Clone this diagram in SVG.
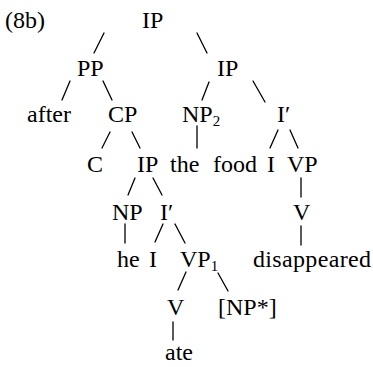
<svg xmlns="http://www.w3.org/2000/svg" width="373" height="367" viewBox="0 0 373 367">
<style>
text{font-family:"Liberation Serif","Times New Roman",serif;font-size:24px;fill:#000}
.sub{font-size:15px}
#edges line{stroke:#000;stroke-width:1.3;stroke-linecap:round}
</style>
<rect width="373" height="367" fill="#fff"/>
<g id="edges">
<line x1="104" y1="33" x2="94" y2="53"/>
<line x1="197" y1="33" x2="207" y2="53"/>
<line x1="70" y1="81" x2="62" y2="100"/>
<line x1="103" y1="81" x2="112" y2="100"/>
<line x1="209" y1="82" x2="202" y2="100"/>
<line x1="253" y1="81" x2="265" y2="102"/>
<line x1="110" y1="132" x2="102" y2="148"/>
<line x1="132" y1="132" x2="140" y2="148"/>
<line x1="197" y1="126" x2="197" y2="148"/>
<line x1="278" y1="130" x2="270" y2="148"/>
<line x1="290" y1="130" x2="298" y2="148"/>
<line x1="301" y1="178" x2="301" y2="197"/>
<line x1="301" y1="226" x2="301" y2="245"/>
<line x1="135" y1="178" x2="128" y2="195"/>
<line x1="153" y1="178" x2="162" y2="195"/>
<line x1="125" y1="224" x2="125" y2="243"/>
<line x1="163" y1="224" x2="155" y2="242"/>
<line x1="175" y1="224" x2="185" y2="243"/>
<line x1="186" y1="272" x2="178" y2="290"/>
<line x1="218" y1="273" x2="228" y2="291"/>
<line x1="173" y1="322" x2="173" y2="340"/>
</g>
<g id="label"><text x="5" y="28">(8b)</text></g>
<g id="ip-root"><text x="142" y="28">IP</text></g>
<g id="pp"><text x="77" y="76">PP</text></g>
<g id="ip-right"><text x="217" y="76">IP</text></g>
<g id="after"><text x="27" y="122">after</text></g>
<g id="cp"><text x="108" y="122">CP</text></g>
<g id="np2"><text x="182" y="122">NP<tspan class="sub" dy="4">2</tspan></text></g>
<g id="ibar-right"><text x="277" y="122">I′</text></g>
<g id="c"><text x="87" y="172">C</text></g>
<g id="ip-lower"><text x="137" y="172">IP</text></g>
<g id="the-food"><text y="172"><tspan x="170">the</tspan><tspan x="213">food</tspan></text></g>
<g id="i-right"><text x="267" y="172">I</text></g>
<g id="vp-right"><text x="287" y="172">VP</text></g>
<g id="np"><text x="112" y="220">NP</text></g>
<g id="ibar-lower"><text x="160" y="220">I′</text></g>
<g id="v-right"><text x="293" y="220">V</text></g>
<g id="he"><text x="117" y="267">he</text></g>
<g id="i-lower"><text x="149" y="267">I</text></g>
<g id="vp1"><text x="180" y="267">VP<tspan class="sub" dy="4">1</tspan></text></g>
<g id="disappeared"><text x="253" y="267" textLength="118" lengthAdjust="spacing">disappeared</text></g>
<g id="v-lower"><text x="167" y="315">V</text></g>
<g id="np-star"><text x="218" y="315">[NP*]</text></g>
<g id="ate"><text x="165" y="360">ate</text></g>
</svg>
